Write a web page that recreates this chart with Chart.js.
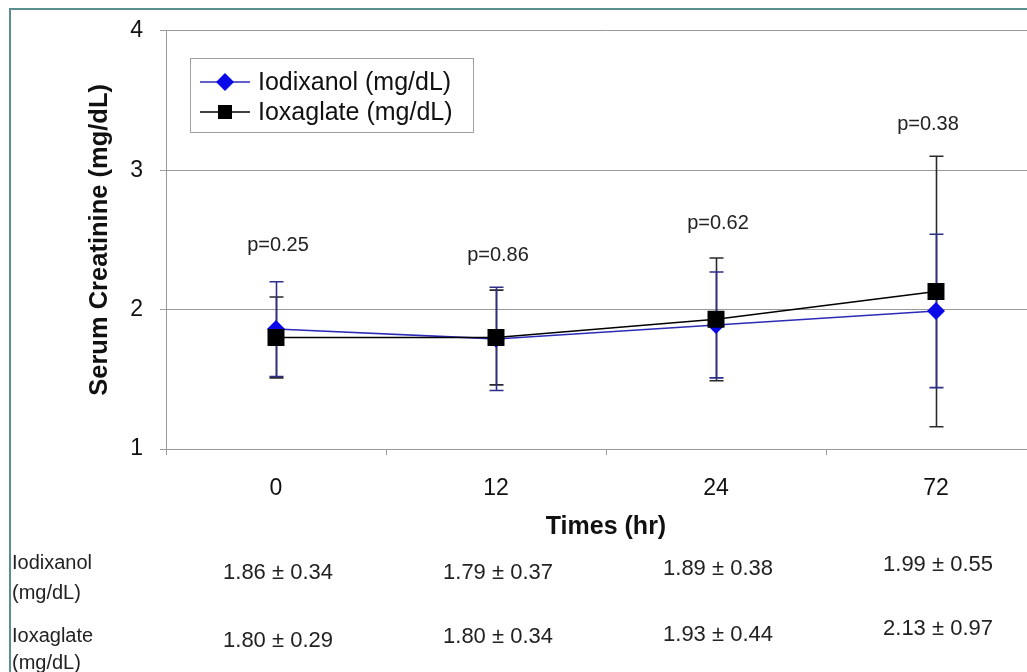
<!DOCTYPE html>
<html><head><meta charset="utf-8">
<script src="https://cdn.jsdelivr.net/npm/chart.js@4/dist/chart.umd.min.js"></script>
<style>
html,body{margin:0;padding:0;background:#fff;overflow:hidden;}
#wrap{position:relative;width:1027px;height:672px;overflow:hidden;background:#fff;}
#frame{position:absolute;left:9px;top:8px;right:-10px;bottom:-10px;border-top:2px solid #5b8e8f;border-left:2px solid #5b8e8f;pointer-events:none;}
canvas{position:absolute;left:0;top:0;}
</style></head><body>
<div id="wrap"><canvas id="c" width="1060" height="672"></canvas><div id="frame"></div></div>
<script>
const categories = ['0', '12', '24', '72'];
const iodixanolMean = [1.86, 1.79, 1.89, 1.99];
const iodixanolSD = [0.34, 0.37, 0.38, 0.55];
const ioxaglateMean = [1.80, 1.80, 1.93, 2.13];
const ioxaglateSD = [0.29, 0.34, 0.44, 0.97];
const yTicks = [1, 2, 3, 4];
const pLabels = ['p=0.25', 'p=0.86', 'p=0.62', 'p=0.38'];
const seriesNames = ['Iodixanol (mg/dL)', 'Ioxaglate (mg/dL)'];
const rowLabels = [['Iodixanol', '(mg/dL)'], ['Ioxaglate', '(mg/dL)']];

// label placement (not data)
const pLabelPos = [2.46, 2.39, 2.62, 3.33];
const pLabelDx = [2, 2, 2, -8];
const tableRowY = [[573, 573, 569, 565], [641, 637, 635, 629]];
const rowLabelY = [[563, 593], [636, 663]];

const FAM = '"Liberation Sans", Arial, sans-serif';
const BLUE_LINE = '#2b2bb8';
const BLUE_PT = '#0a0ae8';
const AXIS = '#9a9a9a';

const sdMap = [iodixanolSD, ioxaglateSD];
const errColors = ['#2e2e8c', '#2a2a2a'];

const errorBars = {
  id: 'errorBars',
  beforeDatasetsDraw(chart) {
    const { ctx, scales: { x, y } } = chart;
    [1, 0].forEach(di => {
      const ds = chart.data.datasets[di];
      const sd = sdMap[di];
      ctx.save();
      ctx.strokeStyle = errColors[di];
      ctx.lineWidth = 1.6;
      ds.data.forEach((m, i) => {
        const px = Math.round(x.getPixelForValue(i)) + 0.5;
        const t = y.getPixelForValue(m + sd[i]);
        const b = y.getPixelForValue(m - sd[i]);
        ctx.beginPath();
        ctx.moveTo(px, t); ctx.lineTo(px, b);
        ctx.moveTo(px - 7, t); ctx.lineTo(px + 7, t);
        ctx.moveTo(px - 7, b); ctx.lineTo(px + 7, b);
        ctx.stroke();
      });
      ctx.restore();
    });
  }
};

function drawMarker(ctx, style, cx, cy) {
  ctx.save();
  if (style === 'diamond') {
    ctx.fillStyle = BLUE_PT;
    ctx.beginPath();
    ctx.moveTo(cx, cy - 9); ctx.lineTo(cx + 9, cy); ctx.lineTo(cx, cy + 9); ctx.lineTo(cx - 9, cy);
    ctx.closePath(); ctx.fill();
  } else {
    ctx.fillStyle = '#000';
    ctx.fillRect(cx - 7, cy - 7, 14, 14);
  }
  ctx.restore();
}

const annotations = {
  id: 'annotations',
  afterDatasetsDraw(chart) {
    const { ctx, scales: { x, y } } = chart;
    ctx.save();
    ctx.fillStyle = '#222';
    ctx.font = '20px ' + FAM;
    ctx.textAlign = 'center';
    ctx.textBaseline = 'middle';
    pLabels.forEach((t, i) => {
      ctx.fillText(t, x.getPixelForValue(i) + pLabelDx[i], y.getPixelForValue(pLabelPos[i]));
    });
    ctx.restore();
  },
  afterDraw(chart) {
    const { ctx, scales: { x } } = chart;
    // legend
    ctx.save();
    ctx.fillStyle = '#fff';
    ctx.fillRect(190.5, 58.5, 283, 74);
    ctx.strokeStyle = '#a0a0a0';
    ctx.lineWidth = 1;
    ctx.strokeRect(190.5, 58.5, 283, 74);
    const rows = [{ y: 82, color: BLUE_LINE, m: 'diamond' }, { y: 112, color: '#000', m: 'square' }];
    rows.forEach((r, i) => {
      ctx.strokeStyle = r.color;
      ctx.lineWidth = 1.5;
      ctx.beginPath(); ctx.moveTo(200, r.y); ctx.lineTo(250, r.y); ctx.stroke();
      drawMarker(ctx, r.m, 225, r.y);
      ctx.fillStyle = '#111';
      ctx.font = '25px ' + FAM;
      ctx.textAlign = 'left';
      ctx.textBaseline = 'middle';
      ctx.fillText(seriesNames[i], 258, r.y + 1);
    });
    // table
    const means = [iodixanolMean, ioxaglateMean];
    ctx.fillStyle = '#222';
    ctx.textBaseline = 'middle';
    means.forEach((arr, r) => {
      ctx.font = '20px ' + FAM;
      ctx.textAlign = 'left';
      ctx.fillText(rowLabels[r][0], 12, rowLabelY[r][0]);
      ctx.fillText(rowLabels[r][1], 12, rowLabelY[r][1]);
      ctx.font = '22px ' + FAM;
      ctx.textAlign = 'center';
      arr.forEach((m, i) => {
        ctx.fillText(m.toFixed(2) + ' \u00b1 ' + sdMap[r][i].toFixed(2), x.getPixelForValue(i) + 2, tableRowY[r][i]);
      });
    });
    ctx.restore();
  }
};

new Chart(document.getElementById('c'), {
  type: 'line',
  data: {
    labels: categories,
    datasets: [
      {
        label: seriesNames[0], data: iodixanolMean, order: 1,
        borderColor: BLUE_LINE, borderWidth: 1.5, backgroundColor: BLUE_PT,
        pointStyle: 'rectRot', pointRadius: 9, pointBackgroundColor: BLUE_PT, pointBorderColor: BLUE_PT, pointBorderWidth: 0,
        tension: 0, fill: false
      },
      {
        label: seriesNames[1], data: ioxaglateMean, order: 0,
        borderColor: '#000', borderWidth: 1.5, backgroundColor: '#000',
        pointStyle: 'rect', pointRadius: 12, pointBackgroundColor: '#000', pointBorderColor: '#000', pointBorderWidth: 0,
        tension: 0, fill: false
      }
    ]
  },
  options: {
    responsive: false,
    animation: false,
    devicePixelRatio: 1,
    layout: { padding: { left: 0, top: 25, right: 14, bottom: 130 } },
    plugins: { legend: { display: false }, tooltip: { enabled: false } },
    scales: {
      x: {
        type: 'category', offset: true,
        ticks: { color: '#111', font: { size: 23, family: FAM }, padding: 20 },
        grid: { offset: true, drawOnChartArea: false, tickLength: 6, tickColor: AXIS, color: AXIS },
        border: { color: AXIS, width: 1 },
        title: { display: true, text: 'Times (hr)', color: '#111', font: { size: 25, weight: 'bold', family: FAM }, padding: { top: 0, bottom: 0 } },
        afterFit: s => { s.height = 93; }
      },
      y: {
        min: 1, max: 4,
        afterBuildTicks: s => { s.ticks = yTicks.map(v => ({ value: v })); },
        ticks: { color: '#111', font: { size: 23, family: FAM }, padding: 17 },
        grid: { color: AXIS, lineWidth: 1, tickLength: 6, tickColor: AXIS },
        border: { color: AXIS, width: 1 },
        title: { display: true, text: 'Serum Creatinine (mg/dL)', color: '#111', font: { size: 25.5, weight: 'bold', family: FAM }, padding: { top: 85, bottom: 0 } },
        afterFit: s => { s.width = 166; }
      }
    }
  },
  plugins: [errorBars, annotations]
});
</script>
</body></html>
